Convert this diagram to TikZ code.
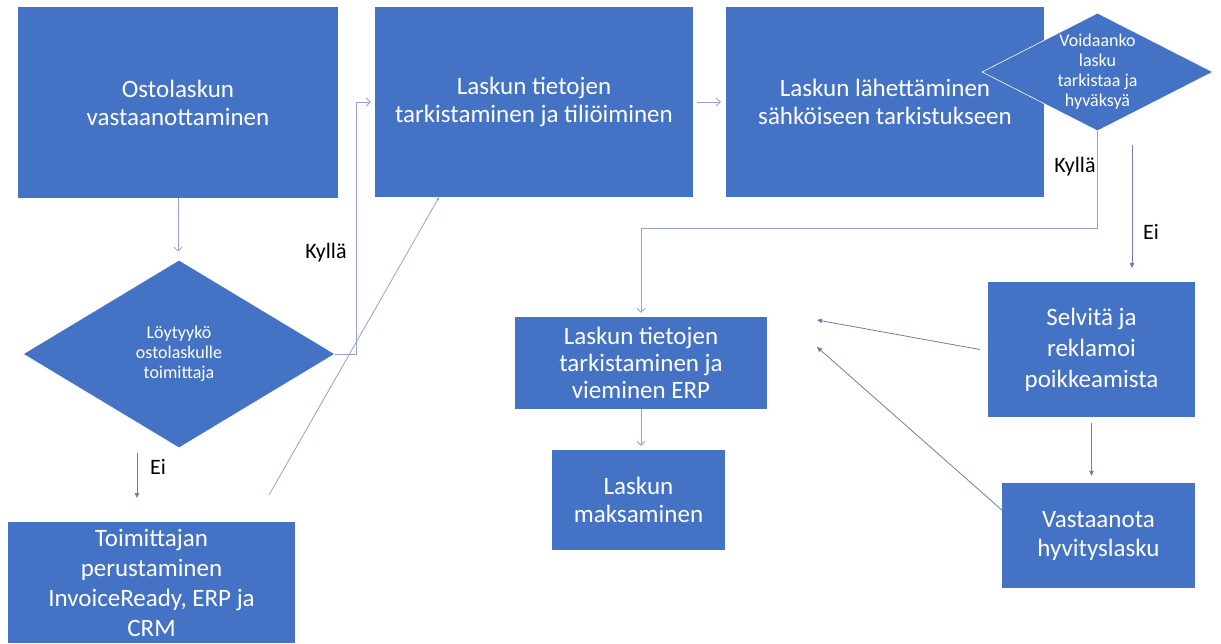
\documentclass[tikz,border=0pt]{standalone}
\usepackage{fontspec}
\setmainfont{Carlito}
\usetikzlibrary{shapes.geometric,arrows.meta,calc}
\definecolor{boxblue}{RGB}{68,114,196}
\definecolor{linkc}{RGB}{150,160,210}
\definecolor{tipc}{RGB}{110,125,170}

\begin{document}
\begin{tikzpicture}[x=1pt,y=-1pt,
  box/.style={rectangle, fill=boxblue, text=white, align=center, inner sep=0pt,
    font=\fontsize{25}{28}\selectfont},
  dec/.style={diamond, fill=boxblue, draw=white, line width=0.6pt, inner sep=0pt},
  dectext/.style={text=white, align=center, inner sep=0pt, font=\fontsize{18}{20}\selectfont},
  lab/.style={font=\fontsize{22}{24}\selectfont, text=black, inner sep=0pt},
  openarr/.style={draw=linkc, line width=0.8pt, -{Straight Barb[length=4pt,width=8pt]}},
  fillarr/.style={draw=tipc, line width=0.8pt, -{Triangle[length=5pt,width=4.5pt]}},
  plainline/.style={draw=linkc, line width=0.8pt, -{Triangle[length=3pt,width=3pt]}},
]
\useasboundingbox (0,0) rectangle (1221,644);

% process boxes
\node[box, minimum width=320pt, minimum height=191pt] (recv) at (178,102.5)
  {Ostolaskun\\vastaanottaminen};
\node[box, minimum width=318pt, minimum height=190pt] (check) at (534,102)
  {Laskun tietojen\\tarkistaminen ja tiliöiminen};
\node[box, minimum width=318pt, minimum height=190pt] (send) at (885,102)
  {Laskun lähettäminen\\sähköiseen tarkistukseen};
\node[box, minimum width=252pt, minimum height=92pt, font=\fontsize{25}{27}\selectfont]
  (erp) at (641,363) {Laskun tietojen\\tarkistaminen ja\\vieminen ERP};
\node[box, minimum width=173pt, minimum height=100pt] (pay) at (638.5,500)
  {Laskun\\maksaminen};
\node[box, minimum width=207pt, minimum height=135pt, font=\fontsize{25}{31}\selectfont]
  (sel) at (1091.5,349.5) {Selvitä ja\\reklamoi\\poikkeamista};
\node[box, minimum width=193pt, minimum height=105pt, font=\fontsize{25}{29}\selectfont]
  (vas) at (1098.5,535.5) {Vastaanota\\hyvityslasku};
\node[box, minimum width=287pt, minimum height=121pt, font=\fontsize{25}{30}\selectfont]
  (toim) at (151.5,582.5) {Toimittajan\\perustaminen\\InvoiceReady, ERP ja\\CRM};

% decisions
\node[dec, minimum width=312pt, minimum height=188pt] (found) at (179,354) {};
\node[dectext] (foundtxt) at (found.center) {Löytyykö\\ostolaskulle\\toimittaja};
\node[dec, minimum width=231pt, minimum height=118pt] (ok) at (1097.5,72) {};
\node[dectext] (oktxt) at (ok.center) {Voidaanko\\lasku\\tarkistaa ja\\hyväksyä};

% branch labels
\node[lab] (kylL) at (326,253) {Kyllä};
\node[lab] (eiL) at (158,467) {Ei};
\node[lab] (kylR) at (1075,167) {Kyllä};
\node[lab] (eiR) at (1151,232) {Ei};

% free connector ends
\coordinate (eiLa) at (137,453);
\coordinate (eiLb) at (137,498);
\coordinate (eiRa) at (1132,145);
\coordinate (eiRb) at (1132,268);
\coordinate (diagS) at (269,495);
\coordinate (selT) at (817,320);
\coordinate (vasT) at (817,347);

% connectors
\draw[openarr, shorten >=8pt] (recv.south) -- (recv.south |- found.north);
\draw[openarr, shorten >=4pt] (found.east) -- ++(21,0) |- (check.west);
\draw[fillarr] (eiLa) -- (eiLb);
\draw[plainline] (diagS) -- ([xshift=-95pt]check.south);
\draw[openarr, shorten <=4pt, shorten >=5pt] (check.east) -- (send.west);
\draw[openarr, shorten >=4pt] (ok.south) -- ++(0,97) -| (erp.north);
\draw[fillarr] (eiRa) -- (eiRb);
\draw[openarr, shorten >=4pt] (erp.south) -- (erp.south |- pay.north);
\draw[fillarr] ([xshift=-8pt]sel.west) -- (selT);
\draw[fillarr] ([yshift=25.5pt]vas.west) -- (vasT);
\draw[fillarr] ([yshift=-6pt]sel.south) -- ([yshift=7pt]sel.south |- vas.north);
\end{tikzpicture}
\end{document}
